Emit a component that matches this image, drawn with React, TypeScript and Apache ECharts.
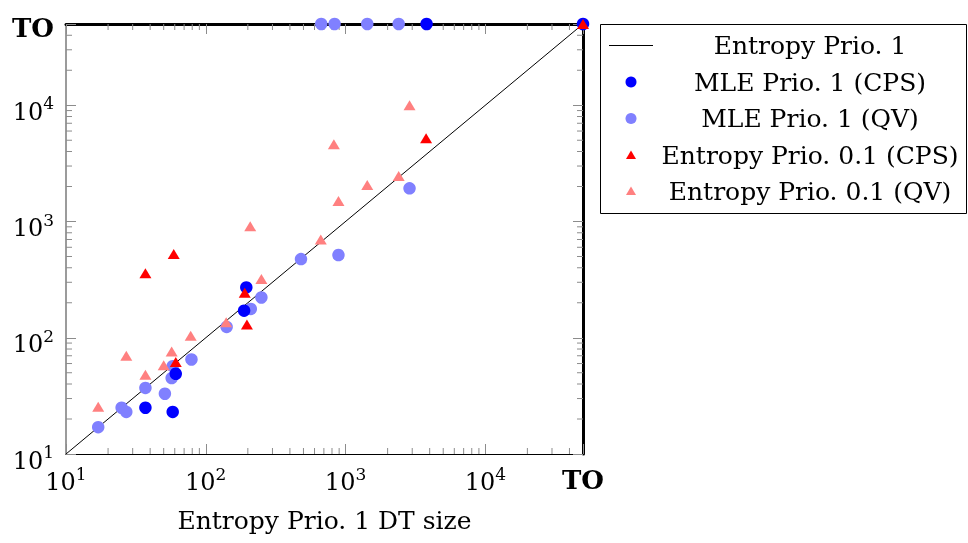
import React, { useEffect, useRef } from 'react';
import * as echarts from 'echarts';

// ---- data ----
const TO = 50000; // time-out value, drawn on the thick top/right border
const AXIS_MIN = 10;
const AXIS_MAX = TO;

const DIAG_X = [10, TO];
const DIAG_Y = [10, TO];

const MLE_CPS_X = [195, 188, 61, 37, 58, 3800, TO];
const MLE_CPS_Y = [271, 171, 49, 25, 23, TO, TO];

const MLE_QV_X = [480, 890, 250, 210, 141, 79, 58, 57, 51, 37, 25, 27, 17, 2870, 670, 835, 1430, 2400];
const MLE_QV_Y = [475, 515, 222, 177, 124, 65, 57, 45, 33, 37, 25, 23, 17, 1930, TO, TO, TO, TO];

const ENT01_CPS_X = [59, 37, 190, 197, 61, 3770, TO];
const ENT01_CPS_Y = [525, 358, 244, 130, 62, 5190, TO];

const ENT01_QV_X = [208, 250, 140, 78, 27, 57, 50, 37, 17, 2870, 825, 1430, 2400, 890, 665];
const ENT01_QV_Y = [910, 320, 136, 104, 70, 76, 58, 48, 25.5, 10000, 4630, 2060, 2460, 1500, 700];

const MINOR_MULT = [2, 3, 4, 5, 6, 7, 8, 9];
const DECADES = [10, 100, 1000, 10000];

const NAMES = [
  'Entropy Prio. 1',
  'MLE Prio. 1 (CPS)',
  'MLE Prio. 1 (QV)',
  'Entropy Prio. 0.1 (CPS)',
  'Entropy Prio. 0.1 (QV)',
];
const X_TITLE = 'Entropy Prio. 1 DT size';

// ---- styles ----
const SERIF = '"DejaVu Serif", "Liberation Serif", serif';
const C_BLUE = '#0000ff';
const C_LBLUE = '#8080ff';
const C_RED = '#ff0000';
const C_LRED = '#ff8080';
const TICK_COLOR = '#8c8c8c';

const zip = (xs: number[], ys: number[]) => xs.map((x, i) => [x, ys[i]]);
const MINOR_TICKS = DECADES.flatMap((d) => MINOR_MULT.map((m) => m * d)).filter((v) => v < AXIS_MAX);

const labelFmt = (v: number) => {
  if (v >= TO * 0.99) return '{to|TO}';
  const e = Math.round(Math.log10(v));
  return `{b|10}{s|${e}}`;
};

const RICH = {
  b: { fontFamily: SERIF, fontSize: 24, lineHeight: 29, color: '#000', verticalAlign: 'bottom' },
  s: { fontFamily: SERIF, fontSize: 17, lineHeight: 17, color: '#000', verticalAlign: 'top' },
  to: { fontFamily: SERIF, fontSize: 26, fontWeight: 'bold', color: '#000', lineHeight: 29 },
};

export default function App() {
  const ref = useRef<HTMLDivElement>(null);

  useEffect(() => {
    if (!ref.current) return;
    const chart = echarts.init(ref.current, undefined, { renderer: 'svg' });

    const tickLine = (x1: number, y1: number, x2: number, y2: number) => ({
      type: 'line',
      shape: { x1, y1, x2, y2 },
      style: { stroke: TICK_COLOR, lineWidth: 1 },
    });

    const legendRows = [45.5, 82, 118.5, 155, 191];
    const LX = 631;
    const tri = (cy: number, color: string) => ({
      type: 'polygon',
      shape: { points: [[LX, cy - 4.5], [LX - 5, cy + 4], [LX + 5, cy + 4]] },
      style: { fill: color },
    });

    const option: any = {
      animation: false,
      grid: { left: 66, right: 385, top: 24, bottom: 89, containLabel: false },
      xAxis: [
        {
          type: 'log',
          logBase: 10,
          min: AXIS_MIN,
          max: AXIS_MAX,
          position: 'bottom',
          name: X_TITLE,
          nameLocation: 'middle',
          nameGap: 54,
          nameTextStyle: { fontFamily: SERIF, fontSize: 25, color: '#000' },
          axisLine: { show: true, lineStyle: { color: '#000', width: 1.2 } },
          axisTick: { show: true, inside: true, length: 10, lineStyle: { color: TICK_COLOR, width: 1 } },
          minorTick: { show: false },
          splitLine: { show: false },
          axisLabel: {
            show: true,
            margin: 11,
            formatter: labelFmt,
            rich: RICH,
            showMinLabel: true,
            showMaxLabel: true,
          },
        },
        {
          type: 'log',
          logBase: 10,
          min: AXIS_MIN,
          max: AXIS_MAX,
          position: 'top',
          axisLine: { show: true, lineStyle: { color: '#000', width: 3 } },
          axisTick: { show: true, inside: true, length: 10, lineStyle: { color: TICK_COLOR, width: 1 } },
          axisLabel: { show: false },
          splitLine: { show: false },
        },
      ],
      yAxis: [
        {
          type: 'log',
          logBase: 10,
          min: AXIS_MIN,
          max: AXIS_MAX,
          position: 'left',
          axisLine: { show: true, lineStyle: { color: '#7a7a7a', width: 1.5 } },
          axisTick: { show: true, inside: true, length: 10, lineStyle: { color: TICK_COLOR, width: 1 } },
          splitLine: { show: false },
          axisLabel: {
            show: true,
            margin: 12,
            padding: [8, 0, 0, 0],
            formatter: labelFmt,
            rich: RICH,
            showMinLabel: true,
            showMaxLabel: true,
          },
        },
        {
          type: 'log',
          logBase: 10,
          min: AXIS_MIN,
          max: AXIS_MAX,
          position: 'right',
          axisLine: { show: true, lineStyle: { color: '#000', width: 3 } },
          axisTick: { show: true, inside: true, length: 10, lineStyle: { color: TICK_COLOR, width: 1 } },
          axisLabel: { show: false },
          splitLine: { show: false },
        },
      ],
      series: [
        {
          type: 'custom',
          silent: true,
          clip: false,
          z: 1,
          data: MINOR_TICKS.map((v) => [v, AXIS_MIN]),
          encode: { x: 0, y: 1 },
          renderItem: (_p: any, api: any) => {
            const v = api.value(0);
            const b = api.coord([v, AXIS_MIN]);
            const t = api.coord([v, AXIS_MAX]);
            return {
              type: 'group',
              children: [tickLine(b[0], b[1], b[0], b[1] - 6), tickLine(t[0], t[1], t[0], t[1] + 6)],
            };
          },
        },
        {
          type: 'custom',
          silent: true,
          clip: false,
          z: 1,
          data: MINOR_TICKS.map((v) => [AXIS_MIN, v]),
          encode: { x: 0, y: 1 },
          renderItem: (_p: any, api: any) => {
            const v = api.value(1);
            const l = api.coord([AXIS_MIN, v]);
            const r = api.coord([AXIS_MAX, v]);
            return {
              type: 'group',
              children: [tickLine(l[0], l[1], l[0] + 6, l[1]), tickLine(r[0], r[1], r[0] - 6, r[1])],
            };
          },
        },
        {
          name: NAMES[0],
          type: 'line',
          data: zip(DIAG_X, DIAG_Y),
          symbol: 'none',
          silent: true,
          z: 2,
          lineStyle: { color: '#000', width: 1 },
        },
        {
          name: NAMES[2],
          type: 'scatter',
          data: zip(MLE_QV_X, MLE_QV_Y),
          symbol: 'circle',
          symbolSize: 12.5,
          silent: true,
          z: 3,
          itemStyle: { color: C_LBLUE, opacity: 1 },
        },
        {
          name: NAMES[1],
          type: 'scatter',
          data: zip(MLE_CPS_X, MLE_CPS_Y),
          symbol: 'circle',
          symbolSize: 12.5,
          silent: true,
          z: 3,
          itemStyle: { color: C_BLUE, opacity: 1 },
        },
        {
          name: NAMES[4],
          type: 'scatter',
          data: zip(ENT01_QV_X, ENT01_QV_Y),
          symbol: 'triangle',
          symbolSize: [12, 10],
          silent: true,
          z: 3,
          itemStyle: { color: C_LRED, opacity: 1 },
        },
        {
          name: NAMES[3],
          type: 'scatter',
          data: zip(ENT01_CPS_X, ENT01_CPS_Y),
          symbol: 'triangle',
          symbolSize: [12, 10],
          silent: true,
          z: 3,
          itemStyle: { color: C_RED, opacity: 1 },
        },
      ],
      graphic: [
        {
          type: 'rect',
          shape: { x: 600.5, y: 24.5, width: 366, height: 189 },
          style: { fill: '#fff', stroke: '#000', lineWidth: 1 },
        },
        { type: 'line', shape: { x1: 609, y1: legendRows[0], x2: 653, y2: legendRows[0] }, style: { stroke: '#000', lineWidth: 1 } },
        { type: 'circle', shape: { cx: LX, cy: legendRows[1], r: 5.5 }, style: { fill: C_BLUE } },
        { type: 'circle', shape: { cx: LX, cy: legendRows[2], r: 5.5 }, style: { fill: C_LBLUE } },
        tri(legendRows[3], C_RED),
        tri(legendRows[4], C_LRED),
        ...NAMES.map((n, i) => ({
          type: 'text',
          x: 810,
          y: legendRows[i],
          style: {
            text: n,
            fill: '#000',
            font: `25px ${SERIF}`,
            textAlign: 'center',
            textVerticalAlign: 'middle',
          },
        })),
      ],
    };

    chart.setOption(option);
    return () => chart.dispose();
  }, []);

  return <div ref={ref} style={{ position: 'fixed', left: 0, top: 0, width: 968, height: 543 }} />;
}
